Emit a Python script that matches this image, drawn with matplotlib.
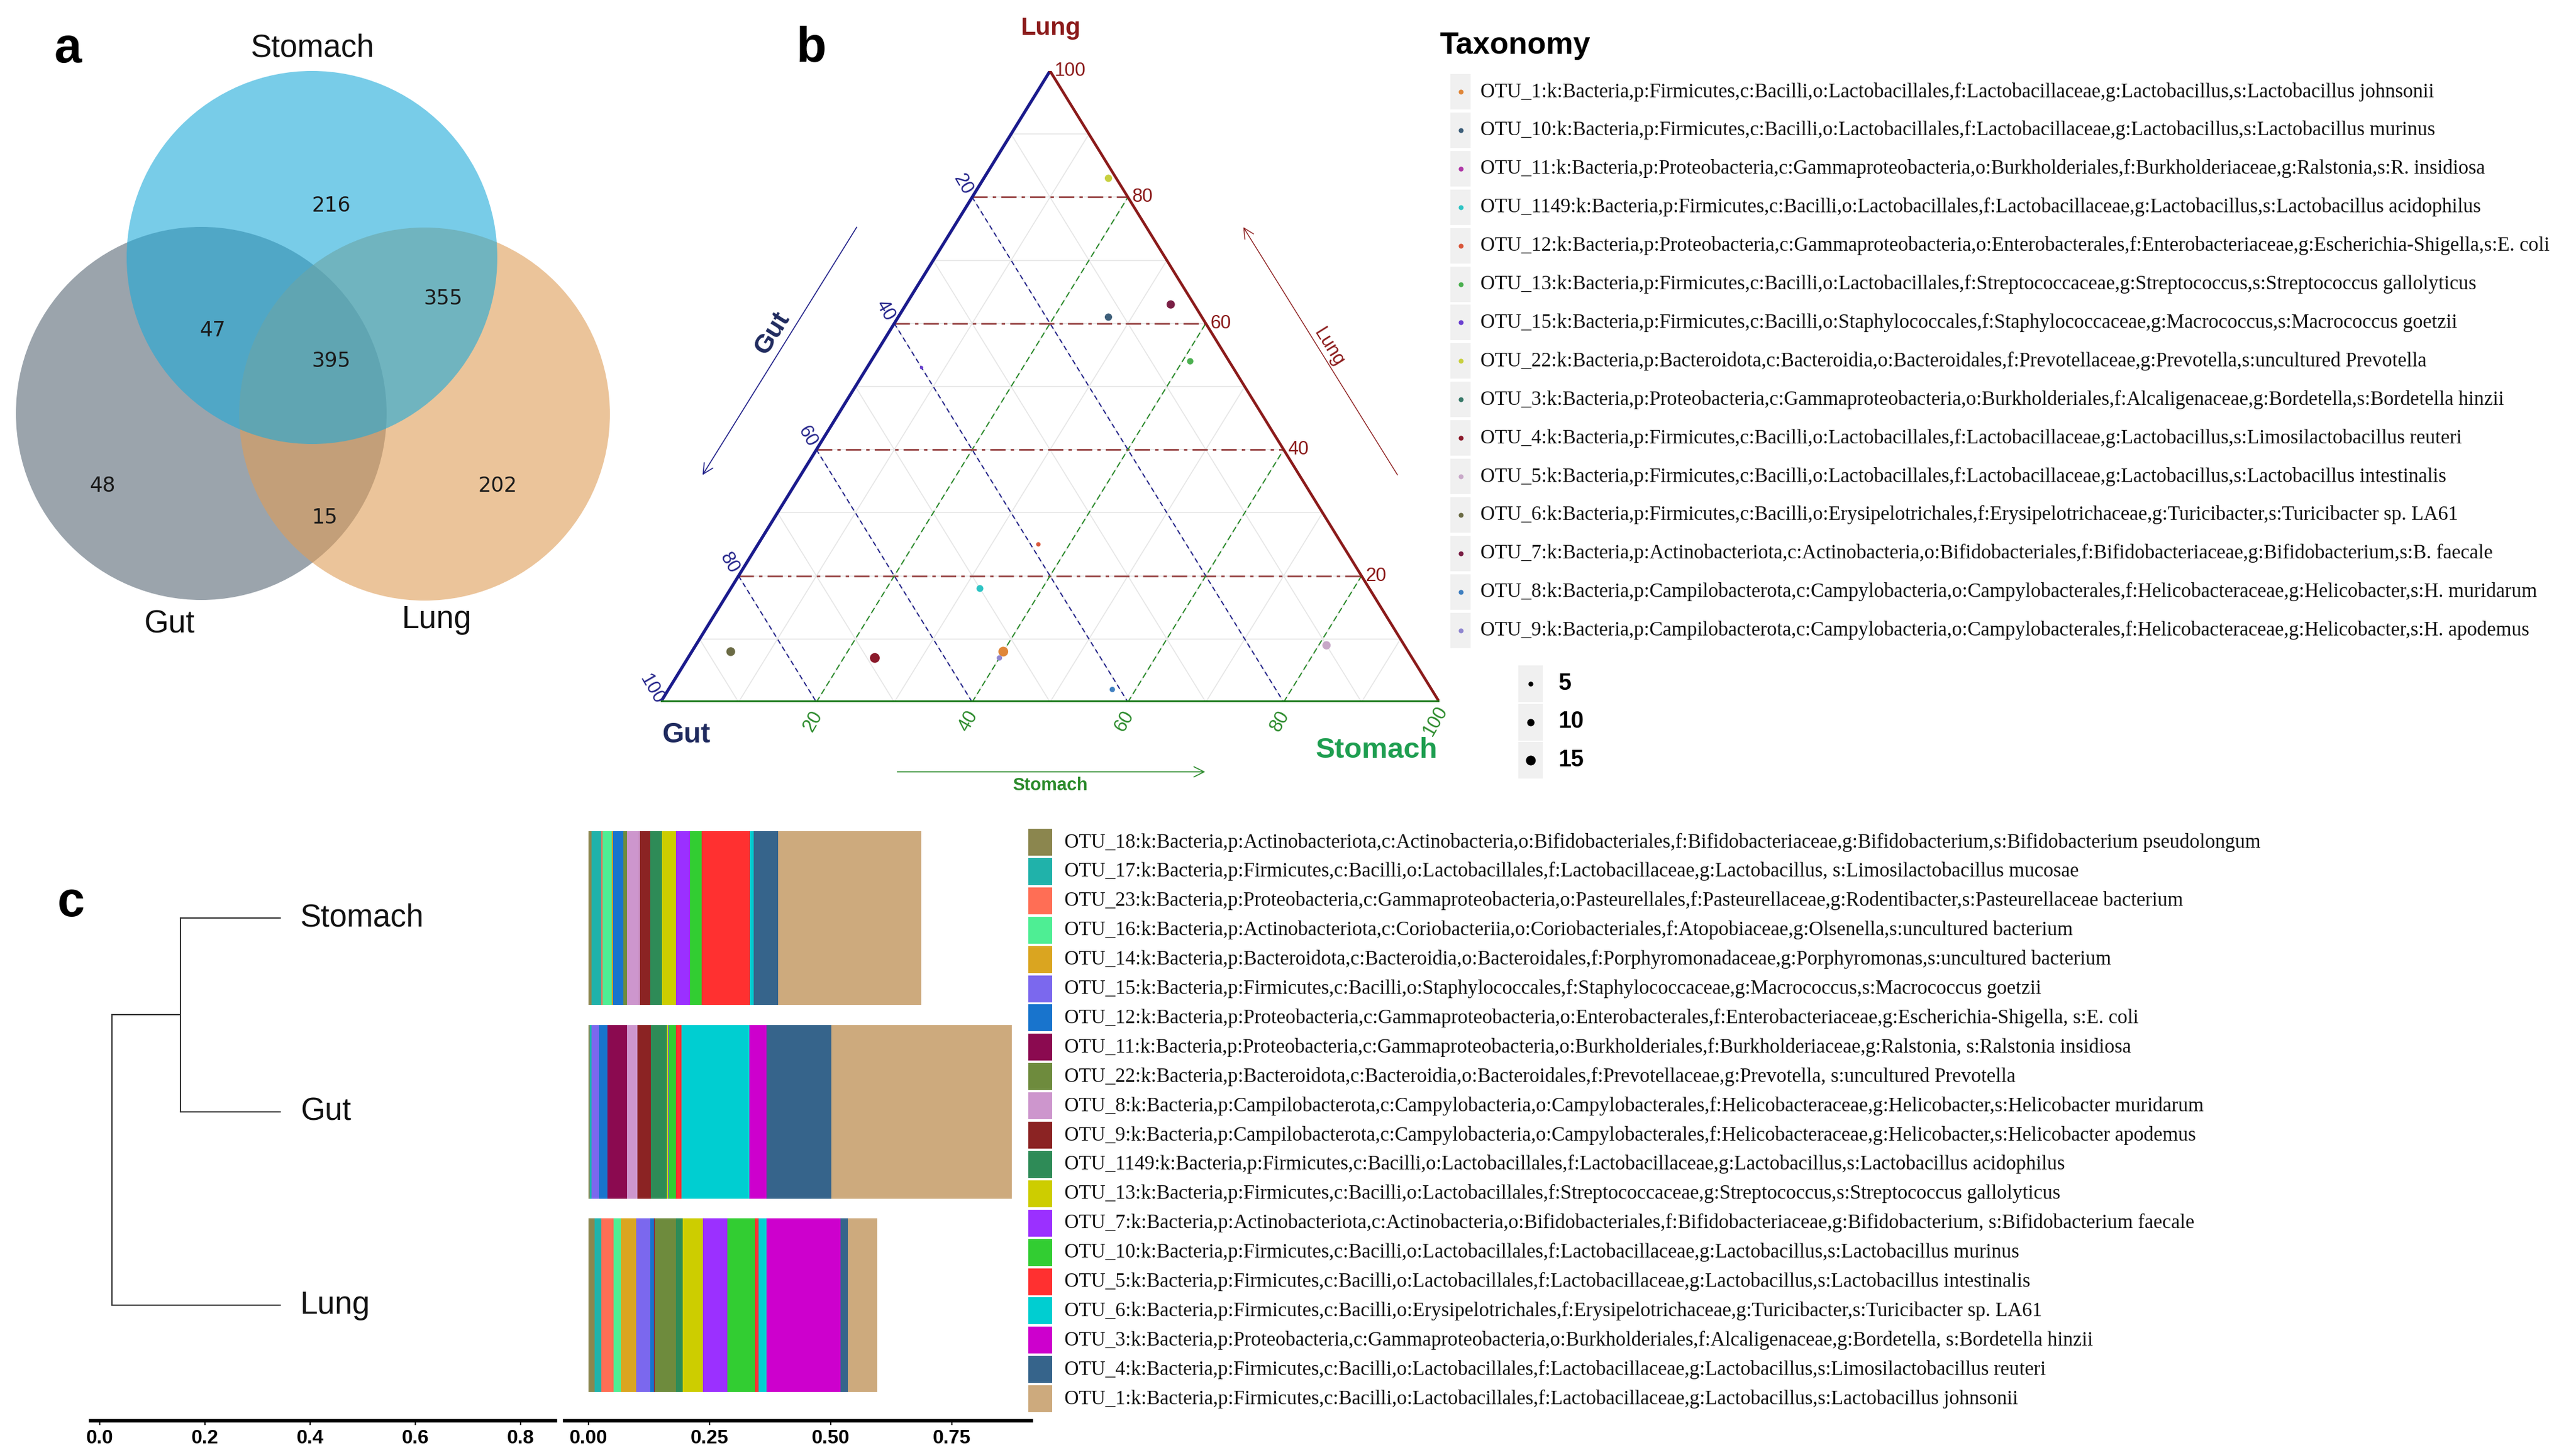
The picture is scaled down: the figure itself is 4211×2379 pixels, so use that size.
import matplotlib
matplotlib.use('Agg')
import matplotlib.pyplot as plt
from matplotlib.patches import Ellipse, Rectangle
from matplotlib import font_manager
import numpy as np

# ---------------- data ----------------
venn_labels = ['Stomach', 'Gut', 'Lung']
venn_regions = ['S', 'G', 'L', 'SG', 'SL', 'GL', 'SGL']
venn_counts = [216, 48, 202, 47, 355, 15, 395]

tern_otus = ['OTU_1', 'OTU_10', 'OTU_11', 'OTU_1149', 'OTU_12', 'OTU_13', 'OTU_15', 'OTU_22',
             'OTU_3', 'OTU_4', 'OTU_5', 'OTU_6', 'OTU_7', 'OTU_8', 'OTU_9']
tern_gut = [52, 12, np.nan, 50, 39, 5, 40, 1, np.nan, 69, 10, 87, 3, 41, 53]
tern_stomach = [40, 27, np.nan, 32, 36, 41, 7, 16, np.nan, 24, 81, 5, 34, 57, 40]
tern_lung = [8, 61, np.nan, 18, 25, 54, 53, 83, np.nan, 7, 9, 8, 63, 2, 7]
tern_size = [15, 10, np.nan, 9, 4, 8, 2, 10, np.nan, 15, 12, 13, 12, 6, 6]
tern_colors = ['#E0873A', '#3E5F7A', '#B03AA8', '#2EC4C4', '#D9573B', '#4CB050', '#6A3FD0',
               '#C8D040', '#3A7A6A', '#8B1A2B', '#C8A8C8', '#6B6B45', '#7A1F45', '#3F7FC0', '#8F86D0']
tern_labels = [
    'OTU_1:k:Bacteria,p:Firmicutes,c:Bacilli,o:Lactobacillales,f:Lactobacillaceae,g:Lactobacillus,s:Lactobacillus johnsonii',
    'OTU_10:k:Bacteria,p:Firmicutes,c:Bacilli,o:Lactobacillales,f:Lactobacillaceae,g:Lactobacillus,s:Lactobacillus murinus',
    'OTU_11:k:Bacteria,p:Proteobacteria,c:Gammaproteobacteria,o:Burkholderiales,f:Burkholderiaceae,g:Ralstonia,s:R. insidiosa',
    'OTU_1149:k:Bacteria,p:Firmicutes,c:Bacilli,o:Lactobacillales,f:Lactobacillaceae,g:Lactobacillus,s:Lactobacillus acidophilus',
    'OTU_12:k:Bacteria,p:Proteobacteria,c:Gammaproteobacteria,o:Enterobacterales,f:Enterobacteriaceae,g:Escherichia-Shigella,s:E. coli',
    'OTU_13:k:Bacteria,p:Firmicutes,c:Bacilli,o:Lactobacillales,f:Streptococcaceae,g:Streptococcus,s:Streptococcus gallolyticus',
    'OTU_15:k:Bacteria,p:Firmicutes,c:Bacilli,o:Staphylococcales,f:Staphylococcaceae,g:Macrococcus,s:Macrococcus goetzii',
    'OTU_22:k:Bacteria,p:Bacteroidota,c:Bacteroidia,o:Bacteroidales,f:Prevotellaceae,g:Prevotella,s:uncultured Prevotella',
    'OTU_3:k:Bacteria,p:Proteobacteria,c:Gammaproteobacteria,o:Burkholderiales,f:Alcaligenaceae,g:Bordetella,s:Bordetella hinzii',
    'OTU_4:k:Bacteria,p:Firmicutes,c:Bacilli,o:Lactobacillales,f:Lactobacillaceae,g:Lactobacillus,s:Limosilactobacillus reuteri',
    'OTU_5:k:Bacteria,p:Firmicutes,c:Bacilli,o:Lactobacillales,f:Lactobacillaceae,g:Lactobacillus,s:Lactobacillus intestinalis',
    'OTU_6:k:Bacteria,p:Firmicutes,c:Bacilli,o:Erysipelotrichales,f:Erysipelotrichaceae,g:Turicibacter,s:Turicibacter sp. LA61',
    'OTU_7:k:Bacteria,p:Actinobacteriota,c:Actinobacteria,o:Bifidobacteriales,f:Bifidobacteriaceae,g:Bifidobacterium,s:B. faecale',
    'OTU_8:k:Bacteria,p:Campilobacterota,c:Campylobacteria,o:Campylobacterales,f:Helicobacteraceae,g:Helicobacter,s:H. muridarum',
    'OTU_9:k:Bacteria,p:Campilobacterota,c:Campylobacteria,o:Campylobacterales,f:Helicobacteraceae,g:Helicobacter,s:H. apodemus',
]
size_legend_values = [5, 10, 15]
tern_ticks = [20, 40, 60, 80, 100]

tree_leaves = ['Stomach', 'Gut', 'Lung']
tree_leaf_x = 0.343
tree_node_x = 0.153   # Stomach + Gut
tree_root_x = 0.023   # (Stomach,Gut) + Lung
dend_ticks = [0.0, 0.2, 0.4, 0.6, 0.8]

bar_otus = ['OTU_18', 'OTU_17', 'OTU_23', 'OTU_16', 'OTU_14', 'OTU_15', 'OTU_12', 'OTU_11', 'OTU_22', 'OTU_8',
            'OTU_9', 'OTU_1149', 'OTU_13', 'OTU_7', 'OTU_10', 'OTU_5', 'OTU_6', 'OTU_3', 'OTU_4', 'OTU_1']
bar_colors = ['#8B864E', '#20B2AA', '#FF6E55', '#4EEE94', '#DAA520', '#7B68EE', '#1874CD', '#8B0A50', '#6E8B3D',
              '#CD96CD', '#8B2323', '#2E8B57', '#CDCD00', '#9B30FF', '#32CD32', '#FF3030', '#00CED1', '#CD00CD',
              '#36648B', '#CDAA7D']
stomach_abund = [0.006, 0.021, 0.002, 0.019, 0.002, 0.001, 0.021, 0.000, 0.008, 0.026,
                 0.021, 0.024, 0.029, 0.029, 0.024, 0.100, 0.008, 0.000, 0.050, 0.296]
gut_abund = [0.003, 0.003, 0.000, 0.000, 0.000, 0.016, 0.017, 0.041, 0.000, 0.021,
             0.028, 0.033, 0.002, 0.001, 0.015, 0.012, 0.140, 0.035, 0.134, 0.373]
lung_abund = [0.013, 0.013, 0.026, 0.015, 0.032, 0.028, 0.008, 0.001, 0.045, 0.000,
              0.000, 0.014, 0.041, 0.050, 0.057, 0.008, 0.016, 0.153, 0.015, 0.061]
bar_ticks = [0.00, 0.25, 0.50, 0.75]
bar_labels = [
    'OTU_18:k:Bacteria,p:Actinobacteriota,c:Actinobacteria,o:Bifidobacteriales,f:Bifidobacteriaceae,g:Bifidobacterium,s:Bifidobacterium pseudolongum',
    'OTU_17:k:Bacteria,p:Firmicutes,c:Bacilli,o:Lactobacillales,f:Lactobacillaceae,g:Lactobacillus, s:Limosilactobacillus mucosae',
    'OTU_23:k:Bacteria,p:Proteobacteria,c:Gammaproteobacteria,o:Pasteurellales,f:Pasteurellaceae,g:Rodentibacter,s:Pasteurellaceae bacterium',
    'OTU_16:k:Bacteria,p:Actinobacteriota,c:Coriobacteriia,o:Coriobacteriales,f:Atopobiaceae,g:Olsenella,s:uncultured bacterium',
    'OTU_14:k:Bacteria,p:Bacteroidota,c:Bacteroidia,o:Bacteroidales,f:Porphyromonadaceae,g:Porphyromonas,s:uncultured bacterium',
    'OTU_15:k:Bacteria,p:Firmicutes,c:Bacilli,o:Staphylococcales,f:Staphylococcaceae,g:Macrococcus,s:Macrococcus goetzii',
    'OTU_12:k:Bacteria,p:Proteobacteria,c:Gammaproteobacteria,o:Enterobacterales,f:Enterobacteriaceae,g:Escherichia-Shigella, s:E. coli',
    'OTU_11:k:Bacteria,p:Proteobacteria,c:Gammaproteobacteria,o:Burkholderiales,f:Burkholderiaceae,g:Ralstonia, s:Ralstonia insidiosa',
    'OTU_22:k:Bacteria,p:Bacteroidota,c:Bacteroidia,o:Bacteroidales,f:Prevotellaceae,g:Prevotella, s:uncultured Prevotella',
    'OTU_8:k:Bacteria,p:Campilobacterota,c:Campylobacteria,o:Campylobacterales,f:Helicobacteraceae,g:Helicobacter,s:Helicobacter muridarum',
    'OTU_9:k:Bacteria,p:Campilobacterota,c:Campylobacteria,o:Campylobacterales,f:Helicobacteraceae,g:Helicobacter,s:Helicobacter apodemus',
    'OTU_1149:k:Bacteria,p:Firmicutes,c:Bacilli,o:Lactobacillales,f:Lactobacillaceae,g:Lactobacillus,s:Lactobacillus acidophilus',
    'OTU_13:k:Bacteria,p:Firmicutes,c:Bacilli,o:Lactobacillales,f:Streptococcaceae,g:Streptococcus,s:Streptococcus gallolyticus',
    'OTU_7:k:Bacteria,p:Actinobacteriota,c:Actinobacteria,o:Bifidobacteriales,f:Bifidobacteriaceae,g:Bifidobacterium, s:Bifidobacterium faecale',
    'OTU_10:k:Bacteria,p:Firmicutes,c:Bacilli,o:Lactobacillales,f:Lactobacillaceae,g:Lactobacillus,s:Lactobacillus murinus',
    'OTU_5:k:Bacteria,p:Firmicutes,c:Bacilli,o:Lactobacillales,f:Lactobacillaceae,g:Lactobacillus,s:Lactobacillus intestinalis',
    'OTU_6:k:Bacteria,p:Firmicutes,c:Bacilli,o:Erysipelotrichales,f:Erysipelotrichaceae,g:Turicibacter,s:Turicibacter sp. LA61',
    'OTU_3:k:Bacteria,p:Proteobacteria,c:Gammaproteobacteria,o:Burkholderiales,f:Alcaligenaceae,g:Bordetella, s:Bordetella hinzii',
    'OTU_4:k:Bacteria,p:Firmicutes,c:Bacilli,o:Lactobacillales,f:Lactobacillaceae,g:Lactobacillus,s:Limosilactobacillus reuteri',
    'OTU_1:k:Bacteria,p:Firmicutes,c:Bacilli,o:Lactobacillales,f:Lactobacillaceae,g:Lactobacillus,s:Lactobacillus johnsonii',
]

# ---------------- figure ----------------
W, H = 4211, 2379
DPI = 100
fig = plt.figure(figsize=(W / DPI, H / DPI), dpi=DPI)
fig.patch.set_facecolor('white')
SANS = 'Liberation Sans'
SERIF = 'Liberation Serif'
try:
    font_manager.findfont(font_manager.FontProperties(family='Liberation Sans Narrow', weight='bold'),
                          fallback_to_default=False)
    NARROW, TICK_FS = 'Liberation Sans Narrow', 26
except Exception:
    NARROW, TICK_FS = SANS, 23


def box(x0, y0, x1, y1):
    return [x0 / W, 1 - y1 / H, (x1 - x0) / W, (y1 - y0) / H]


canvas = fig.add_axes([0, 0, 1, 1])
canvas.set_xlim(0, W)
canvas.set_ylim(H, 0)
canvas.axis('off')

# panel letters
for lab, (px, py) in zip(['a', 'b', 'c'], [(111, 81), (1326, 79), (116, 1477)]):
    canvas.text(px, py, lab, fontsize=58, fontweight='bold', family=SANS, ha='center', va='center')

# ---------------- (a) Venn ----------------
circ = {'Gut': ((329, 676), '#586775'), 'Lung': ((694, 677), '#DF9D57'), 'Stomach': ((510, 421), '#1EAAD9')}
for name in ['Gut', 'Lung', 'Stomach']:
    (cx, cy), col = circ[name]
    canvas.add_patch(Ellipse((cx, cy), 606, 610, facecolor=col, edgecolor='none', alpha=0.6))
region_pos = {'S': (541, 337), 'G': (168, 795), 'L': (814, 795), 'SG': (348, 540),
              'SL': (724, 488), 'GL': (531, 847), 'SGL': (541, 591)}
for reg, cnt in zip(venn_regions, venn_counts):
    x, y = region_pos[reg]
    canvas.text(x, y, str(cnt), fontsize=24, family='DejaVu Sans', color='#1a1a1a', ha='center', va='center')
label_pos = {'Stomach': (511, 79), 'Gut': (277, 1021), 'Lung': (714, 1014)}
for lab in venn_labels:
    x, y = label_pos[lab]
    canvas.text(x, y, lab, fontsize=37, family=SANS, ha='center', va='center', color='#111111')

# ---------------- (b) Ternary ----------------
tern = fig.add_axes(box(1080, 116, 2353, 1148))
tern.set_xlim(0, 1)
tern.set_ylim(0, 1)
tern.axis('off')

NAVY = '#23238A'
DRED = '#8B1A1A'
GREEN = '#2A8A2A'


def txy(stom, lung):
    return stom + lung / 2.0, lung


for v in np.arange(0.1, 1.0, 0.1):
    tern.plot([v / 2, 1 - v / 2], [v, v], color='#E6E6E6', lw=1.2, zorder=1)
    tern.plot([v, v + (1 - v) / 2], [0, 1 - v], color='#E6E6E6', lw=1.2, zorder=1)
    tern.plot([(1 - v) / 2, 1 - v], [1 - v, 0], color='#E6E6E6', lw=1.2, zorder=1)
for v in [0.2, 0.4, 0.6, 0.8]:
    tern.plot([v / 2, 1 - v / 2], [v, v], color='#9A4848', lw=2.0, dashes=(9, 3, 2, 3), zorder=2)
    tern.plot([v, v + (1 - v) / 2], [0, 1 - v], color=GREEN, lw=1.4, dashes=(5, 3), zorder=2)
    tern.plot([(1 - v) / 2, 1 - v], [1 - v, 0], color=NAVY, lw=1.4, dashes=(4, 3), zorder=2)
tern.plot([0, 0.5], [0, 1], color='#1A1A8C', lw=3.6, zorder=3, solid_capstyle='round')
tern.plot([0.5, 1], [1, 0], color=DRED, lw=3.2, zorder=3, solid_capstyle='round')
tern.plot([0, 1], [0, 0], color='#1B7A1B', lw=4.2, zorder=3, solid_capstyle='butt')

for t in tern_ticks:
    f = t / 100.0
    tern.annotate(str(t), xy=txy(0, 1 - f), xytext=(-15, 21), textcoords='offset pixels',
                  ha='center', va='center', rotation=-60, fontsize=22, family=SANS, color=NAVY,
                  annotation_clip=False)
    tern.annotate(str(t), xy=txy(f, 0), xytext=(-6, -31), textcoords='offset pixels',
                  ha='center', va='center', rotation=60, fontsize=22, family=SANS, color=GREEN,
                  annotation_clip=False)
    tern.annotate(str(t), xy=txy(1 - f, f), xytext=(7, 0), textcoords='offset pixels',
                  ha='left', va='center', fontsize=22, family=SANS, color=DRED,
                  annotation_clip=False)


def dot_diam(v):
    return 4 + 0.8 * np.asarray(v, dtype=float)


g = np.array(tern_gut, dtype=float)
s = np.array(tern_stomach, dtype=float)
l = np.array(tern_lung, dtype=float)
tot = g + s + l
px, py = txy(s / tot, l / tot)
ok = ~np.isnan(px)
sizes = (dot_diam(np.array(tern_size, dtype=float)) * 72 / DPI) ** 2
tern.scatter(px[ok], py[ok], s=sizes[ok], c=np.array(tern_colors)[ok], zorder=5, linewidths=0, clip_on=False)

canvas.text(1717, 46, 'Lung', fontsize=29, fontweight='bold', family=SANS, color=DRED, ha='center', va='center')
canvas.text(1122, 1202, 'Gut', fontsize=33, fontweight='bold', family=SANS, color='#1F2A5E', ha='center', va='center')
canvas.text(2250, 1227, 'Stomach', fontsize=34, fontweight='bold', family=SANS, color='#1E9E50', ha='center', va='center')
canvas.annotate('', xy=(1147, 779), xytext=(1402, 369),
                arrowprops=dict(arrowstyle='->', color=NAVY, lw=1.2, mutation_scale=30))
canvas.text(1262, 545, 'Gut', fontsize=31, fontweight='bold', family=SANS, color='#1F2A5E',
            rotation=58, ha='center', va='center')
canvas.annotate('', xy=(2031, 369), xytext=(2286, 779),
                arrowprops=dict(arrowstyle='->', color=DRED, lw=1.0, mutation_scale=30))
canvas.text(2172, 568, 'Lung', fontsize=22, family=SANS, color=DRED, rotation=-58, ha='center', va='center')
canvas.annotate('', xy=(1973, 1262), xytext=(1464, 1262),
                arrowprops=dict(arrowstyle='->', color=GREEN, lw=1.2, mutation_scale=30))
canvas.text(1717, 1284, 'Stomach', fontsize=21, fontweight='bold', family=SANS, color=GREEN,
            ha='center', va='center')

canvas.text(2353, 75, 'Taxonomy', fontsize=36, fontweight='bold', family=SANS, ha='left', va='center')
ty0, tdy = 150, 62.9
for i, (lab, col) in enumerate(zip(tern_labels, tern_colors)):
    y = ty0 + tdy * i
    canvas.add_patch(Rectangle((2371, y - 29), 33, 58, facecolor='#F0F0F0', edgecolor='none'))
    canvas.scatter([2388], [y], s=(8 * 72 / DPI) ** 2, color=col, linewidths=0, zorder=4)
    canvas.text(2420, y, lab, fontsize=23.5, family=SERIF, ha='left', va='center', color='#111111')
for i, v in enumerate(size_legend_values):
    y = 1118 + 62.5 * i
    canvas.add_patch(Rectangle((2482, y - 30), 40, 60, facecolor='#F0F0F0', edgecolor='none'))
    canvas.scatter([2502], [y], s=(dot_diam(v) * 72 / DPI) ** 2, color='black', linewidths=0, zorder=4)
    canvas.text(2548, y, str(v), fontsize=27, fontweight='bold', family=SANS, ha='left', va='center')

# ---------------- (c) dendrogram ----------------
dend = fig.add_axes(box(148, 1343, 908, 2323))
dend.set_xlim((148 - 163) / 860, (908 - 163) / 860)
dend.set_ylim(2.597, -0.5)
ypos = np.arange(len(tree_leaves))
lc = '#333333'
mid = (ypos[0] + ypos[1]) / 2
dend.plot([tree_node_x, tree_leaf_x], [ypos[0], ypos[0]], color=lc, lw=1.5)
dend.plot([tree_node_x, tree_leaf_x], [ypos[1], ypos[1]], color=lc, lw=1.5)
dend.plot([tree_node_x, tree_node_x], [ypos[0], ypos[1]], color=lc, lw=1.5)
dend.plot([tree_root_x, tree_node_x], [mid, mid], color=lc, lw=1.5)
dend.plot([tree_root_x, tree_leaf_x], [ypos[2], ypos[2]], color=lc, lw=1.5)
dend.plot([tree_root_x, tree_root_x], [mid, ypos[2]], color=lc, lw=1.5)
for yy, lab in zip(ypos, tree_leaves):
    dend.annotate(lab, xy=(tree_leaf_x, yy), xytext=(33, 0), textcoords='offset pixels',
                  fontsize=37, family=SANS, ha='left', va='center', color='#111111')

# ---------------- (c) stacked bars ----------------
bars = fig.add_axes(box(923, 1343, 1686, 2323))
bars.set_xlim((923 - 962) / 792, (1686 - 962) / 792)
bars.set_ylim(2.597, -0.5)
samples = np.array([stomach_abund, gut_abund, lung_abund])
left = np.zeros(3)
for j, col in enumerate(bar_colors):
    bars.barh(ypos, samples[:, j], left=left, height=0.897, color=col, edgecolor='none', zorder=2)
    left += samples[:, j]

for ax, ticks, fmt in [(dend, dend_ticks, '{:.1f}'), (bars, bar_ticks, '{:.2f}')]:
    for sp in ['top', 'right', 'left']:
        ax.spines[sp].set_visible(False)
    ax.spines['bottom'].set_linewidth(4.0)
    ax.set_facecolor('none')
    ax.set_yticks([])
    ax.set_xticks(ticks)
    ax.set_xticklabels([fmt.format(t) for t in ticks], fontsize=TICK_FS, fontweight='bold', family=NARROW)
    ax.tick_params(axis='x', length=5, width=1.5, pad=5)

by0, bdy = 1377, 47.9
for i, (lab, col) in enumerate(zip(bar_labels, bar_colors)):
    y = by0 + bdy * i
    canvas.add_patch(Rectangle((1681, y - 22), 39, 44, facecolor=col, edgecolor='none'))
    canvas.text(1740, y, lab, fontsize=23.5, family=SERIF, ha='left', va='center', color='#111111')

fig.savefig('out.png', dpi=DPI, facecolor='white')
